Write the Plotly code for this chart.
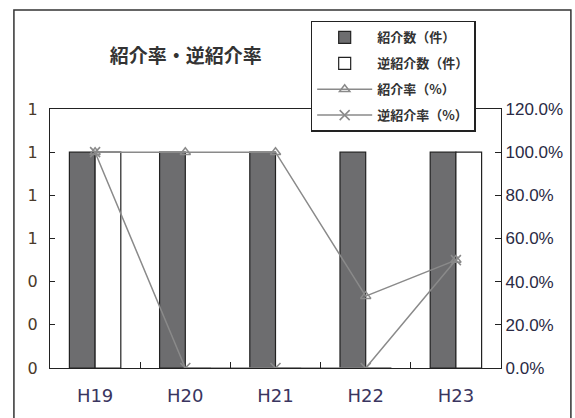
import plotly.graph_objects as go

# Fiscal years (Heisei)
years = ["H19", "H20", "H21", "H22", "H23"]
# Referral counts (cases)
referrals = [1, 1, 1, 1, 1]
reverse_referrals = [1, 0, 0, 0, 1]
# Referral rates (%)
referral_rate = [100.0, 100.0, 100.0, 33.3, 50.0]
reverse_referral_rate = [100.0, 0.0, 0.0, 0.0, 50.0]

left_ticks = [0, 0.2, 0.4, 0.6, 0.8, 1.0, 1.2]
right_ticks = [0, 20, 40, 60, 80, 100, 120]

FONT = "Liberation Sans, Arial, Noto Sans CJK JP, sans-serif"
WIDE_FONT = "DejaVu Sans, Noto Sans CJK JP, sans-serif"
JP_FONT = "Noto Sans CJK JP, sans-serif"
LINE_GRAY = "#8a8a8a"

fig = go.Figure()

fig.add_trace(go.Bar(
    x=years, y=referrals, name="<b>紹介数（件）</b>", legendgroup="a",
    marker=dict(color="#6d6d6f", line=dict(color="#222222", width=1.2)),
    yaxis="y",
))
fig.add_trace(go.Bar(
    x=years, y=reverse_referrals, name="<b>逆紹介数（件）</b>", legendgroup="b",
    marker=dict(color="#ffffff", line=dict(color="#222222", width=1.2)),
    yaxis="y",
))
fig.add_trace(go.Scatter(
    x=years, y=referral_rate, name="<b>紹介率（%）</b>", legendgroup="c",
    mode="lines+markers",
    line=dict(color=LINE_GRAY, width=1.5),
    marker=dict(symbol="triangle-up-open", size=9, color=LINE_GRAY,
                line=dict(color=LINE_GRAY, width=1.5)),
    yaxis="y2",
))
fig.add_trace(go.Scatter(
    x=years, y=reverse_referral_rate, name="<b>逆紹介率（%）</b>", legendgroup="d",
    mode="lines+markers",
    line=dict(color=LINE_GRAY, width=1.5),
    marker=dict(symbol="x-thin-open", size=10, color=LINE_GRAY,
                line=dict(color=LINE_GRAY, width=1.6)),
    yaxis="y2",
))

fig.update_layout(
    width=575, height=418,
    margin=dict(l=50, r=72, t=109, b=47),
    paper_bgcolor="white", plot_bgcolor="white",
    barmode="group", bargap=0.43, bargroupgap=0,
    font=dict(family=FONT, size=12, color="#333333"),
    title=dict(text="<b>紹介率・逆紹介率</b>", x=0.323, xanchor="center",
               y=0.864, yanchor="middle",
               font=dict(family=JP_FONT, size=19, color="#333333")),
    xaxis=dict(
        type="category", showgrid=False, showline=True, linecolor="#222222",
        linewidth=1.2, mirror=True, ticks="inside", tickson="boundaries",
        ticklen=6, tickcolor="#222222", ticklabelstandoff=11,
        tickfont=dict(family=WIDE_FONT, size=18, color="#3a3560"),
    ),
    yaxis=dict(
        range=[0, 1.2], tickvals=left_ticks, tickformat=".0f",
        showgrid=False, zeroline=False, showline=True, linecolor="#222222",
        linewidth=1.2, ticks="inside", ticklen=5, tickcolor="#222222",
        ticklabelstandoff=8,
        tickfont=dict(family=WIDE_FONT, size=16, color="#4a3a2a"),
    ),
    yaxis2=dict(
        range=[0, 120], tickvals=right_ticks,
        ticktext=[f"{v:.1f}%" for v in right_ticks],
        overlaying="y", side="right",
        showgrid=False, zeroline=False, showline=True, linecolor="#222222",
        linewidth=1.2, ticks="inside", ticklen=6, tickcolor="#222222",
        tickfont=dict(family=FONT, size=17, color="#2a2a44"),
    ),
    legend=dict(
        x=0.578, y=1.34, xanchor="left", yanchor="top",
        bgcolor="white", bordercolor="#222222", borderwidth=1.5,
        font=dict(family=JP_FONT, size=13, color="#333333"),
        itemwidth=55, tracegroupgap=6, traceorder="grouped",
    ),
    shapes=[
        dict(type="rect", xref="paper", yref="paper",
             x0=-0.08, x1=1.155, y0=-0.3, y1=1.382,
             line=dict(color="#333333", width=1.5), layer="below"),
    ],
)

fig.write_html("out.html")
